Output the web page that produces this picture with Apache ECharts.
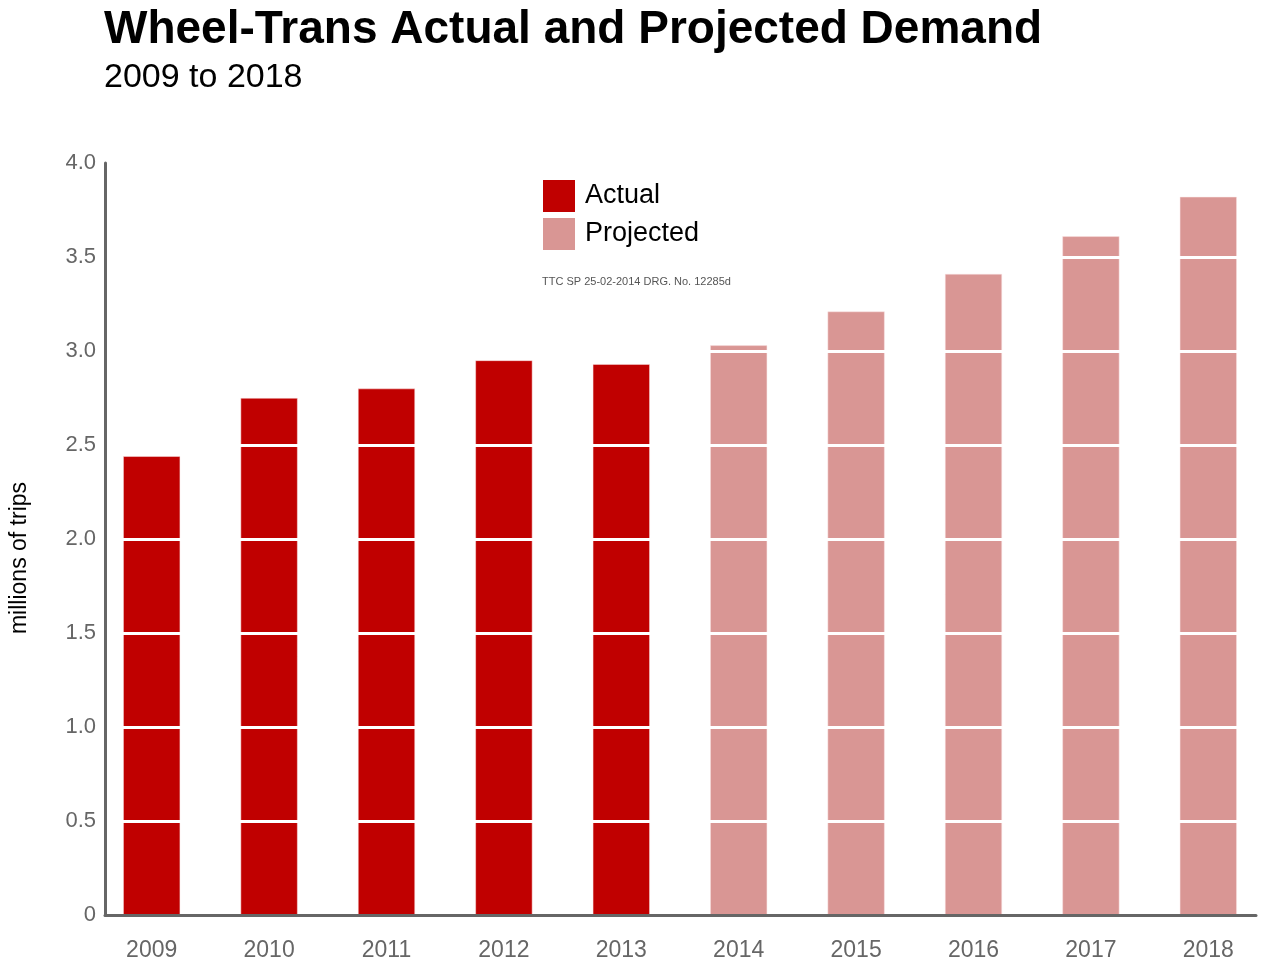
<!DOCTYPE html>
<html>
<head>
<meta charset="utf-8">
<script src="https://cdn.jsdelivr.net/npm/echarts@6/dist/echarts.min.js"></script>
<style>
  html, body { margin: 0; padding: 0; background: #fff; }
  #chart { width: 1267px; height: 962px; }
</style>
</head>
<body>
<div id="chart"></div>
<script>
// Данные графика
const years = ['2009', '2010', '2011', '2012', '2013', '2014', '2015', '2016', '2017', '2018'];
const actual = [2.44, 2.75, 2.80, 2.95, 2.93, '-', '-', '-', '-', '-'];
const projected = ['-', '-', '-', '-', '-', 3.03, 3.21, 3.41, 3.61, 3.82];
const yTicks = { min: 0, max: 4, interval: 0.5 };

const chart = echarts.init(document.getElementById('chart'));
const font = '"Liberation Sans", Arial, Helvetica, sans-serif';
const gray = '#666';

const option = {
    backgroundColor: '#fff',
    textStyle: { fontFamily: font },
    animation: false,
    title: [
        {
            text: 'Wheel-Trans Actual and Projected Demand',
            left: 99, top: 2,
            textStyle: { fontSize: 46, fontWeight: 'bold', color: '#000', fontFamily: font }
        },
        {
            text: '2009 to 2018',
            left: 99, top: 56,
            textStyle: { fontSize: 34, fontWeight: 'normal', color: '#000', fontFamily: font }
        },
        {
            text: 'TTC SP 25-02-2014 DRG. No. 12285d',
            left: 537, top: 271,
            textStyle: { fontSize: 11, fontWeight: 'normal', color: '#555', fontFamily: font }
        }
    ],
    legend: {
        orient: 'vertical',
        left: 538, top: 175,
        itemWidth: 32, itemHeight: 32, itemGap: 6,
        icon: 'rect',
        itemStyle: { borderWidth: 0 },
        textStyle: { fontSize: 27, color: '#000', fontFamily: font, padding: [4, 0, 0, 5] },
        data: ['Actual', 'Projected']
    },
    // grid 0 — столбцы, grid 1 — линии осей
    grid: [
        { left: 93, right: -2, top: 163, bottom: 47, containLabel: false },
        { left: 104, right: 11, top: 163, bottom: 47, containLabel: false }
    ],
    xAxis: [
        {
            type: 'category',
            gridIndex: 0,
            data: years,
            axisLine: { show: false },
            axisTick: { show: false },
            axisLabel: { color: gray, fontSize: 23, margin: 24, fontFamily: font }
        },
        {
            type: 'category',
            gridIndex: 1,
            data: years,
            z: 12,
            axisLine: { lineStyle: { color: gray, width: 3 } },
            axisTick: { show: false },
            axisLabel: { show: false }
        }
    ],
    yAxis: [
        {
            type: 'value',
            gridIndex: 0,
            min: yTicks.min, max: yTicks.max, interval: yTicks.interval,
            z: 10,
            axisLine: { show: false },
            axisTick: { show: false },
            axisLabel: { show: false },
            splitLine: { show: true, lineStyle: { color: '#fff', width: 3 } }
        },
        {
            type: 'value',
            gridIndex: 1,
            min: yTicks.min, max: yTicks.max, interval: yTicks.interval,
            z: 12,
            name: 'millions of trips',
            nameLocation: 'middle',
            nameGap: 74,
            nameTextStyle: { fontSize: 23, color: '#000', fontFamily: font, padding: [0, 38, 0, 0] },
            axisLine: { show: true, lineStyle: { color: gray, width: 3 } },
            axisTick: { show: false },
            axisLabel: {
                color: gray, fontSize: 22, margin: 9, fontFamily: font,
                formatter: v => v === 0 ? '0' : v.toFixed(1)
            },
            splitLine: { show: false }
        }
    ],
    series: [
        {
            name: 'Actual',
            type: 'bar',
            stack: 'total',
            data: actual,
            barWidth: 57,
            itemStyle: { color: '#C00000', borderColor: '#fbe5e5', borderWidth: 0.5 }
        },
        {
            name: 'Projected',
            type: 'bar',
            stack: 'total',
            data: projected,
            barWidth: 57,
            itemStyle: { color: '#D99694', borderColor: '#fbe5e5', borderWidth: 0.5 }
        }
    ]
};

chart.setOption(option);
</script>
</body>
</html>
